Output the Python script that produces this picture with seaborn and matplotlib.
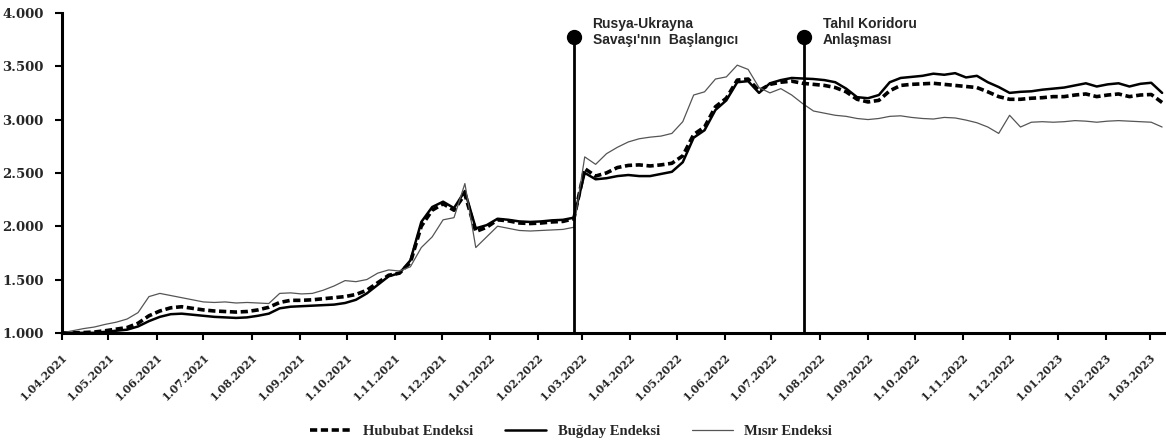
import numpy as np
import pandas as pd
import matplotlib
matplotlib.use("Agg")
import matplotlib.pyplot as plt
import matplotlib.dates as mdates
from matplotlib.ticker import FuncFormatter, MultipleLocator
import seaborn as sns

# Weekly observations starting 1 April 2021 (index, 1 April 2021 = 1.000)
start_date = "2021-04-01"
n_weeks = 102

hububat = [
    1000, 1000, 1003, 1008, 1020, 1035, 1050, 1090, 1160, 1205,
    1235, 1245, 1230, 1215, 1205, 1200, 1195, 1200, 1215, 1240,
    1285, 1305, 1305, 1310, 1320, 1330, 1340, 1360, 1400, 1470,
    1540, 1560, 1660, 2000, 2150, 2210, 2150, 2300, 1950, 1990,
    2060, 2050, 2030, 2025, 2030, 2040, 2045, 2070, 2540, 2470,
    2500, 2550, 2570, 2575, 2565, 2575, 2590, 2660, 2860, 2930,
    3120, 3200, 3370, 3380, 3270, 3330, 3350, 3360, 3340, 3330,
    3320, 3300, 3260, 3190, 3165, 3180, 3270, 3320, 3330, 3335,
    3340, 3330, 3320, 3310, 3300, 3260, 3215, 3190, 3190, 3200,
    3205, 3215, 3215, 3230, 3240, 3215, 3230, 3240, 3215, 3230,
    3235, 3160,
]

bugday = [
    1000, 1000, 1000, 1000, 1010, 1020, 1030, 1060, 1110, 1150,
    1175, 1180, 1170, 1160, 1150, 1145, 1140, 1145, 1160, 1180,
    1230, 1245, 1250, 1255, 1260, 1265, 1280, 1310, 1370, 1450,
    1530, 1560, 1680, 2040, 2180, 2230, 2170, 2330, 1980, 2010,
    2070, 2060, 2045, 2040, 2045, 2055, 2060, 2080, 2500, 2440,
    2450, 2470, 2480, 2470, 2470, 2490, 2510, 2600, 2830, 2900,
    3090, 3180, 3350, 3360, 3250, 3340, 3370, 3390, 3385, 3380,
    3370, 3350, 3290, 3210, 3200, 3230, 3350, 3390, 3400, 3410,
    3430, 3420, 3435, 3395, 3410, 3350, 3305, 3250, 3260, 3265,
    3280, 3290, 3300, 3320, 3340, 3310, 3330, 3340, 3310, 3335,
    3345, 3250,
]

misir = [
    1000, 1020, 1040, 1055, 1080, 1100, 1130, 1190, 1340, 1370,
    1350, 1330, 1310, 1290, 1285, 1290, 1280, 1285, 1280, 1275,
    1370, 1375, 1365, 1370, 1400, 1440, 1490, 1480, 1500, 1560,
    1590, 1580, 1620, 1800, 1900, 2060, 2080, 2400, 1800, 1900,
    2000, 1980, 1960, 1955, 1960, 1965, 1970, 1990, 2650, 2580,
    2680, 2740, 2790, 2820, 2835, 2845, 2870, 2980, 3230, 3260,
    3380, 3400, 3510, 3470, 3300, 3250, 3290, 3230, 3150, 3080,
    3060, 3040, 3030, 3010, 3000, 3010, 3030, 3035, 3020, 3010,
    3005, 3020, 3015, 2995, 2970, 2930, 2870, 3040, 2930, 2975,
    2980, 2975, 2980, 2990, 2985, 2975, 2985, 2990, 2985, 2980,
    2975, 2930,
]

series_labels = ["Hububat Endeksi", "Buğday Endeksi", "Mısır Endeksi"]

events = [
    ("2022-02-24", "Rusya-Ukrayna\nSavaşı'nın  Başlangıcı"),
    ("2022-07-22", "Tahıl Koridoru\nAnlaşması"),
]

dates = pd.date_range(start_date, periods=n_weeks, freq="7D")
df = pd.DataFrame({
    "Tarih": np.tile(dates, 3),
    "Endeks": hububat + bugday + misir,
    "Seri": np.repeat(series_labels, n_weeks),
})

sns.set_theme(style="white")
plt.rcParams["font.family"] = ["DejaVu Serif", "Liberation Serif"]

fig = plt.figure(figsize=(11.66, 4.45), dpi=100)
ax = fig.add_axes([0.053, 0.252, 0.945, 0.719])

styles = {
    "Hububat Endeksi": dict(color="black", lw=2.6, ls=(0, (2.0, 1.0))),
    "Buğday Endeksi": dict(color="black", lw=1.8, ls="-"),
    "Mısır Endeksi": dict(color="#555555", lw=0.9, ls="-"),
}
for name in series_labels:
    sub = df[df["Seri"] == name]
    st = styles[name]
    sns.lineplot(data=sub, x="Tarih", y="Endeks", ax=ax, color=st["color"],
                 linewidth=st["lw"], linestyle=st["ls"], label=name)

# event markers
for day, text in events:
    d = pd.Timestamp(day)
    ax.plot([d, d], [1000, 3770], color="black", lw=2.0, zorder=5)
    ax.plot([d], [3770], marker="o", ms=10, color="black", zorder=6)
    ax.text(d + pd.Timedelta(days=12), 3960, text, ha="left", va="top",
            fontsize=10, fontweight="bold", family=["Liberation Sans", "DejaVu Sans"],
            linespacing=1.15)

ax.set_xlim(pd.Timestamp("2021-04-01"), pd.Timestamp("2023-03-10"))
ax.set_ylim(1000, 4000)
ax.yaxis.set_major_locator(MultipleLocator(500))
ax.yaxis.set_major_formatter(FuncFormatter(lambda v, p: f"{int(v):,}".replace(",", ".")))
ax.xaxis.set_major_locator(mdates.MonthLocator())
ax.xaxis.set_major_formatter(FuncFormatter(
    lambda v, p: (lambda d: f"{d.day}.{d.month:02d}.{d.year}")(mdates.num2date(v))))

ax.tick_params(axis="both", which="major", length=5, width=1.5,
               color="black", direction="out", bottom=True, left=True)
ax.tick_params(axis="y", labelsize=9.5, pad=8)
ax.tick_params(axis="x", labelsize=8, pad=8)

for lab in ax.get_xticklabels():
    lab.set_rotation(45)
    lab.set_ha("right")
    lab.set_rotation_mode("anchor")
for lab in ax.get_xticklabels() + ax.get_yticklabels():
    lab.set_fontweight("bold")

for side in ["top", "right"]:
    ax.spines[side].set_visible(False)
for side in ["left", "bottom"]:
    ax.spines[side].set_color("black")
    ax.spines[side].set_linewidth(2.2)

ax.set_xlabel("")
ax.set_ylabel("")

handles, labels = ax.get_legend_handles_labels()
ax.legend_.remove()
fig.legend(handles, labels, loc="center", bbox_to_anchor=(0.49, 0.03), ncol=3,
           frameon=False, handlelength=2.8, columnspacing=2.2,
           prop={"family": "Liberation Serif", "weight": "bold", "size": 10.5})

fig.savefig("out.png", dpi=100, facecolor="white")
